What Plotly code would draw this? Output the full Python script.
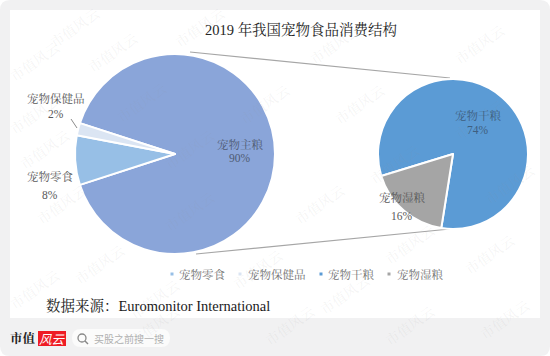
import plotly.graph_objects as go

W, H = 550, 356
title = "2019 年我国宠物食品消费结构"
source = "数据来源：Euromonitor International"
main_labels = ["宠物主粮", "宠物零食", "宠物保健品"]
main_values = [90, 8, 2]
main_colors = ["#8aa5d9", "#97bfe6", "#dbe5f3"]
sub_labels = ["宠物干粮", "宠物湿粮"]
sub_values = [74, 16]
sub_colors = ["#5b9bd5", "#a5a5a5"]
legend_labels = ["宠物零食", "宠物保健品", "宠物干粮", "宠物湿粮"]
legend_colors = ["#97bfe6", "#dbe5f3", "#5b9bd5", "#a5a5a5"]
legend_marker_x = [172, 240, 321, 389]
legend_text_x = [177, 246, 326, 395]
watermark_pos = [(75, 28), (113, 53), (142, 103), (35, 62), (45, 150), (200, 28), (265, 105), (35, 115),
                 (62, 205), (190, 212), (100, 265), (35, 290), (155, 300), (258, 270), (190, 150),
                 (335, 45), (360, 105), (480, 45), (480, 120), (510, 185), (395, 165), (320, 205),
                 (345, 295), (490, 255), (410, 245), (155, 326), (290, 326), (410, 326), (505, 320)]

SERIF = "Liberation Serif, Noto Serif CJK SC, Noto Sans CJK SC, serif"
def fx(p): return p / W
def fy(p): return 1 - p / H

def pie(labels, values, colors, cx, cy, r, rot):
    return go.Pie(labels=labels, values=values, sort=False, direction="clockwise", rotation=rot,
                  marker=dict(colors=colors, line=dict(color="white", width=2)),
                  textinfo="none", hoverinfo="label+percent", showlegend=False,
                  domain=dict(x=[fx(cx - r), fx(cx + r)], y=[fy(cy + r), fy(cy - r)]))

fig = go.Figure([pie(main_labels, main_values, main_colors, 175, 154, 100, 288),
                 pie(sub_labels, sub_values, sub_colors, 453, 154, 75, 253)])

def rect(x0, y0, x1, y1, color, layer="below"):
    return dict(type="rect", xref="paper", yref="paper", x0=fx(x0), x1=fx(x1), y0=fy(y1), y1=fy(y0),
                fillcolor=color, line=dict(width=0), layer=layer)
def line(x0, y0, x1, y1, color="#a6a6a6", width=1.2, layer="below"):
    return dict(type="line", xref="paper", yref="paper", x0=fx(x0), x1=fx(x1), y0=fy(y0), y1=fy(y1),
                line=dict(color=color, width=width), layer=layer)
def rounded(x0, y0, x1, y1, r, color, layer="below"):
    yy0, yy1 = fy(y0), fy(y1)
    rx, ry = fx(r), r / H
    a, b = fx(x0), fx(x1)
    path = (f"M{a+rx},{yy0} L{b-rx},{yy0} Q{b},{yy0} {b},{yy0-ry} L{b},{yy1+ry} Q{b},{yy1} {b-rx},{yy1} "
            f"L{a+rx},{yy1} Q{a},{yy1} {a},{yy1+ry} L{a},{yy0-ry} Q{a},{yy0} {a+rx},{yy0} Z")
    return dict(type="path", xref="paper", yref="paper", path=path, fillcolor=color,
                line=dict(width=0), layer=layer)

shapes = [rounded(0, 0, 550, 356, 10, "#f1f1f2"),
          rect(10, 10, 540, 318, "#ffffff"),
          rounded(72, 329, 170, 347, 9, "#fbfbfb"),
          rect(38, 331, 66, 346, "#ee1c25"),
          line(190, 52, 450, 78), line(196, 254, 450, 229),
          line(71, 119, 77, 128, "#8c8c8c", 1, "above"),
          dict(type="circle", xref="paper", yref="paper", x0=fx(78), x1=fx(86), y0=fy(342), y1=fy(334),
               line=dict(color="#888888", width=1.3), layer="above"),
          line(85, 341, 88, 344, "#888888", 1.4, "above")]
for mx, c in zip(legend_marker_x, legend_colors):
    shapes.append(rect(mx - 1.5, 272.5, mx + 1.5, 275.5, c))

ann = []
def text(x, y, t, size=11.5, color="#595959", anchor="center", family=SERIF, angle=0):
    ann.append(dict(x=fx(x), y=fy(y), xref="paper", yref="paper", text=t, showarrow=False,
                    xanchor=anchor, yanchor="middle", textangle=angle,
                    font=dict(size=size, color=color, family=family), align="center"))

for x, y in watermark_pos:
    text(x, y, "市值风云", 14, "rgba(150,150,155,0.11)", family=SERIF, angle=-35)
text(301, 29, title, 14.5, "#262626")
text(240, 144, main_labels[0], color="#4f5b73")
text(240, 158, f"{main_values[0]}%", color="#4f5b73")
text(56, 98, main_labels[2])
text(56, 114, f"{main_values[2]}%")
text(50, 176, main_labels[1])
text(50, 195, f"{main_values[1]}%")
text(478, 115, sub_labels[0], color="#3f5f80")
text(478, 130, f"{sub_values[0]}%", color="#3f5f80")
text(402, 197, sub_labels[1])
text(402, 216, f"{sub_values[1]}%")
for x, t in zip(legend_text_x, legend_labels):
    text(x, 274, t, anchor="left", color="#737373")
text(44, 305, source, 14.5, "#1a1a1a", anchor="left")
text(23, 338, "<b>市值</b>", 12.5, "#222222")
text(52, 338, "<i>风云</i>", 12.5, "#ffffff", family="Noto Sans CJK SC")
text(92, 338, "买股之前搜一搜", 10, "#b0b0b0", anchor="left", family="Noto Sans CJK SC")

fig.update_layout(width=W, height=H, margin=dict(l=0, r=0, t=0, b=0), autosize=False,
                  paper_bgcolor="white", shapes=shapes, annotations=ann, showlegend=False)
fig.write_html("out.html", config=dict(displayModeBar=False),
               post_script="document.body.style.margin='0';document.documentElement.style.overflow='hidden';")
